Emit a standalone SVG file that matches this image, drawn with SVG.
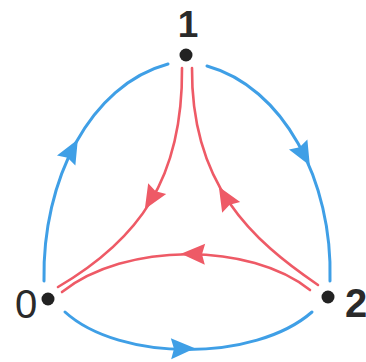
<svg xmlns="http://www.w3.org/2000/svg" xmlns:xlink="http://www.w3.org/1999/xlink" width="366" height="362" viewBox="0 0 366 362">
<style>
.blue{fill:none;stroke:#3F9FE6;stroke-width:3;stroke-linecap:round}
.red{fill:none;stroke:#EE5A66;stroke-width:2.6;stroke-linecap:round}
.bah{fill:#3F9FE6}
.rah{fill:#EE5A66}
.dot{fill:#222}
.lbl{font-family:"Liberation Sans",Arial,sans-serif;font-size:40px;font-weight:bold;fill:#2a2a2a;text-anchor:middle}
</style>
<defs>
<path id="ah" d="M12,0 L-12,-10.5 L-9,0 L-12,10.5 Z"/>
</defs>
<rect width="366" height="362" fill="#fff"/>
<g id="connectors">
<path class="blue" d="M44,281 C42,180 90,85 168,64"/>
<path class="blue" d="M207,66 C283,87 333,180 330,281"/>
<path class="blue" d="M65,312 C120,362 255,362 312,312"/>
<path class="red" d="M182,68 C183,180 138,240 58,287"/>
<path class="red" d="M318,285 C252,240 191,185 192,68"/>
<path class="red" d="M310,290 C250,242 125,242 62,292"/>
<use xlink:href="#ah" class="bah" transform="translate(72,150) rotate(-61)"/>
<use xlink:href="#ah" class="bah" transform="translate(304,155) rotate(61)"/>
<use xlink:href="#ah" class="bah" transform="translate(183,348.5) rotate(-1)"/>
<use xlink:href="#ah" class="rah" transform="translate(151,199) rotate(121)"/>
<use xlink:href="#ah" class="rah" transform="translate(225,197) rotate(-121)"/>
<use xlink:href="#ah" class="rah" transform="translate(193,254) rotate(181)"/>
</g>
<g id="node-1">
<circle class="dot" cx="186" cy="55" r="6.5"/>
<text class="lbl" x="188" y="37" style="font-size:37px">1</text>
</g>
<g id="node-0">
<circle class="dot" cx="48" cy="299" r="6.5"/>
<text class="lbl" x="26" y="318" style="font-weight:normal">0</text>
</g>
<g id="node-2">
<circle class="dot" cx="328" cy="297" r="6.5"/>
<text class="lbl" x="356" y="317">2</text>
</g>
</svg>
